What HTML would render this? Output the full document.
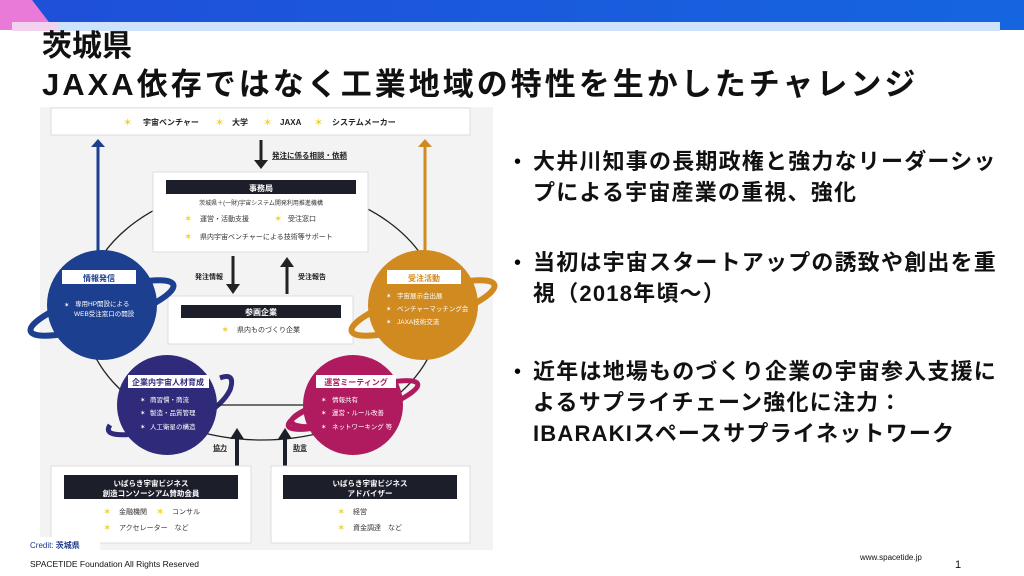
<!DOCTYPE html>
<html><head><meta charset="utf-8"><style>
body{margin:0;width:1024px;height:576px;overflow:hidden;background:#fff;font-family:"Liberation Sans","Noto Sans CJK JP",sans-serif;}
svg{position:absolute;left:0;top:0}
.t{position:absolute;font-family:"Liberation Sans","Noto Sans CJK JP",sans-serif;white-space:nowrap}
.b{font-size:22px;font-weight:bold;line-height:31px;color:#111;left:533px;letter-spacing:1.2px}
.dot{position:absolute;left:507px;font-size:21px;font-weight:bold}
</style></head><body>
<svg width="1024" height="576" viewBox="0 0 1024 576" font-family="Liberation Sans, Noto Sans CJK JP, sans-serif">
<defs>
<linearGradient id="hd" x1="0" x2="1"><stop offset="0" stop-color="#1f4fd8"/><stop offset="1" stop-color="#1565e0"/></linearGradient>
</defs>
<rect x="0" y="0" width="1024" height="30" fill="url(#hd)"/>
<polygon points="0,0 32,0 55,30 0,30" fill="#e97ad8"/>
<rect x="12" y="22" width="988" height="9" fill="#cfe2fb"/>
<rect x="12" y="22" width="45" height="9" fill="#f3d2f0"/>
<rect x="0" y="31" width="1024" height="545" fill="#fff"/>
<text x="42" y="56" font-size="30" font-weight="bold" fill="#111">茨城県</text>
<text x="42" y="95" font-size="31" font-weight="bold" fill="#111" letter-spacing="3">JAXA依存ではなく工業地域の特性を生かしたチャレンジ</text>

<rect x="40" y="107" width="453" height="443" fill="#f3f3f3"/>
<ellipse cx="262" cy="312" rx="178" ry="128" fill="none" stroke="#222" stroke-width="1.3"/>
<rect x="51" y="108" width="419" height="27" fill="#fff" stroke="#ddd"/>
<g font-size="8" font-weight="bold" fill="#222">
<text x="143" y="125">宇宙ベンチャー</text><text x="232" y="125">大学</text><text x="280" y="125">JAXA</text><text x="332" y="125">システムメーカー</text></g>
<g fill="#f2d22c" font-size="11"><text x="123" y="126">✶</text><text x="215" y="126">✶</text><text x="263" y="126">✶</text><text x="314" y="126">✶</text></g>
<line x1="98" y1="145" x2="98" y2="255" stroke="#1d3f8f" stroke-width="3"/><polygon points="91,147 105,147 98,139" fill="#1d3f8f"/>
<line x1="425" y1="145" x2="425" y2="255" stroke="#d08a1f" stroke-width="3"/><polygon points="418,147 432,147 425,139" fill="#d08a1f"/>
<line x1="261" y1="140" x2="261" y2="161" stroke="#222" stroke-width="3"/><polygon points="254,160 268,160 261,169" fill="#222"/>
<text x="272" y="158" font-size="7.5" font-weight="bold" fill="#222" text-decoration="underline">発注に係る相談・依頼</text>
<rect x="153" y="172" width="215" height="80" fill="#fff" stroke="#ddd"/>
<rect x="166" y="180" width="190" height="14" fill="#1c1f2a"/>
<text x="261" y="191" font-size="8" font-weight="bold" fill="#fff" text-anchor="middle">事務局</text>
<text x="261" y="205" font-size="6" fill="#333" text-anchor="middle">茨城県＋(一財)宇宙システム開発利用推進機構</text>
<g font-size="7" fill="#333"><text x="200" y="221">運営・活動支援</text><text x="288" y="221">受注窓口</text><text x="200" y="239">県内宇宙ベンチャーによる技術等サポート</text></g>
<g fill="#f2d22c" font-size="10"><text x="184" y="222">✶</text><text x="274" y="222">✶</text><text x="184" y="240">✶</text></g>
<line x1="233" y1="256" x2="233" y2="285" stroke="#222" stroke-width="3"/><polygon points="226,284 240,284 233,294" fill="#222"/>
<line x1="287" y1="266" x2="287" y2="294" stroke="#222" stroke-width="3"/><polygon points="280,267 294,267 287,257" fill="#222"/>
<text x="195" y="279" font-size="7" font-weight="bold" fill="#222">発注情報</text>
<text x="298" y="279" font-size="7" font-weight="bold" fill="#222">受注報告</text>
<rect x="168" y="296" width="185" height="48" fill="#fff" stroke="#ddd"/>
<rect x="181" y="305" width="160" height="13" fill="#1c1f2a"/>
<text x="261" y="315" font-size="8" font-weight="bold" fill="#fff" text-anchor="middle">参画企業</text>
<text x="237" y="332" font-size="7" fill="#333">県内ものづくり企業</text>
<text x="221" y="333" font-size="10" fill="#f2d22c">✶</text>

<ellipse cx="102" cy="308" rx="75" ry="16" transform="rotate(-18 102 308)" fill="none" stroke="#1d3f8f" stroke-width="6"/>
<circle cx="102" cy="305" r="55" fill="#1d3f8f"/>
<rect x="62" y="270" width="74" height="14" fill="#fff"/>
<text x="99" y="281" font-size="8" font-weight="bold" fill="#1d3f8f" text-anchor="middle">情報発信</text>
<g font-size="6.5" fill="#fff"><text x="75" y="306">専用HP開設による</text><text x="74" y="316">WEB受注窓口の開設</text><text x="64" y="307">✶</text></g>
<ellipse cx="423" cy="308" rx="75" ry="16" transform="rotate(-18 423 308)" fill="none" stroke="#d08a1f" stroke-width="6"/>
<circle cx="423" cy="305" r="55" fill="#d08a1f"/>
<rect x="387" y="270" width="74" height="14" fill="#fff"/>
<text x="424" y="281" font-size="8" font-weight="bold" fill="#d08a1f" text-anchor="middle">受注活動</text>
<g font-size="6.5" fill="#fff"><text x="397" y="298">宇宙展示会出展</text><text x="397" y="311">ベンチャーマッチング会</text><text x="397" y="324">JAXA技術交流</text><text x="386" y="298">✶</text><text x="386" y="311">✶</text><text x="386" y="324">✶</text></g>
<path d="M 220 378 Q 236 372 230 390 Q 215 420 150 432 Q 100 440 110 425" fill="none" stroke="#2f2a7a" stroke-width="5"/>
<circle cx="167" cy="405" r="50" fill="#2f2a7a"/>
<line x1="217" y1="405" x2="303" y2="405" stroke="#222" stroke-width="1.3"/>
<rect x="128" y="375" width="81" height="13" fill="#fff"/>
<text x="168" y="385" font-size="8" font-weight="bold" fill="#2f2a7a" text-anchor="middle">企業内宇宙人材育成</text>
<g font-size="6.5" fill="#fff"><text x="150" y="402">商習慣・商流</text><text x="150" y="415">製造・品質管理</text><text x="150" y="429">人工衛星の構造</text><text x="140" y="402">✶</text><text x="140" y="415">✶</text><text x="140" y="429">✶</text></g>
<path d="M 305 410 Q 285 420 295 425 Q 310 430 340 420" fill="none" stroke="#b01a5e" stroke-width="5"/>
<ellipse cx="353" cy="405" rx="68" ry="13" transform="rotate(-18 353 405)" fill="none" stroke="#b01a5e" stroke-width="5"/>
<circle cx="353" cy="405" r="50" fill="#b01a5e"/>
<rect x="316" y="375" width="80" height="13" fill="#fff"/>
<text x="356" y="385" font-size="8" font-weight="bold" fill="#b01a5e" text-anchor="middle">運営ミーティング</text>
<g font-size="6.5" fill="#fff"><text x="332" y="402">情報共有</text><text x="332" y="415">運営・ルール改善</text><text x="332" y="429">ネットワーキング 等</text><text x="321" y="402">✶</text><text x="321" y="415">✶</text><text x="321" y="429">✶</text></g>
<line x1="237" y1="438" x2="237" y2="467" stroke="#1c1f2a" stroke-width="4"/><polygon points="230,439 244,439 237,428" fill="#1c1f2a"/>
<line x1="285" y1="438" x2="285" y2="467" stroke="#1c1f2a" stroke-width="4"/><polygon points="278,439 292,439 285,428" fill="#1c1f2a"/>
<text x="213" y="450" font-size="7" font-weight="bold" fill="#222" text-decoration="underline">協力</text>
<text x="293" y="450" font-size="7" font-weight="bold" fill="#222" text-decoration="underline">助言</text>
<rect x="51" y="466" width="200" height="77" fill="#fff" stroke="#ddd"/>
<rect x="64" y="475" width="174" height="24" fill="#1c1f2a"/>
<text x="151" y="486" font-size="7.5" font-weight="bold" fill="#fff" text-anchor="middle">いばらき宇宙ビジネス</text>
<text x="151" y="496" font-size="7.5" font-weight="bold" fill="#fff" text-anchor="middle">創造コンソーシアム賛助会員</text>
<g font-size="7" fill="#333"><text x="119" y="514">金融機関</text><text x="172" y="514">コンサル</text><text x="119" y="530">アクセレーター　など</text></g>
<g font-size="10" fill="#f2d22c"><text x="103" y="515">✶</text><text x="156" y="515">✶</text><text x="103" y="531">✶</text></g>
<rect x="271" y="466" width="199" height="77" fill="#fff" stroke="#ddd"/>
<rect x="283" y="475" width="174" height="24" fill="#1c1f2a"/>
<text x="370" y="486" font-size="7.5" font-weight="bold" fill="#fff" text-anchor="middle">いばらき宇宙ビジネス</text>
<text x="370" y="496" font-size="7.5" font-weight="bold" fill="#fff" text-anchor="middle">アドバイザー</text>
<g font-size="7" fill="#333"><text x="353" y="514">経営</text><text x="353" y="530">資金調達　など</text></g>
<g font-size="10" fill="#f2d22c"><text x="337" y="515">✶</text><text x="337" y="531">✶</text></g>
<rect x="20" y="537" width="80" height="13" fill="#fff"/>
<text x="30" y="548" font-size="8" fill="#1d3a8a">Credit: <tspan font-weight="bold">茨城県</tspan></text>
<text x="30" y="567" font-size="8.5" fill="#111">SPACETIDE Foundation  All Rights Reserved</text>
<text x="860" y="560" font-size="8" fill="#111">www.spacetide.jp</text>
<text x="955" y="568" font-size="11" fill="#111">1</text>
</svg>
<div class="dot" style="top:146px">・</div>
<div class="t b" style="top:146px">大井川知事の長期政権と強力なリーダーシッ<br>プによる宇宙産業の重視、強化</div>
<div class="dot" style="top:247px">・</div>
<div class="t b" style="top:247px">当初は宇宙スタートアップの誘致や創出を重<br>視（2018年頃～）</div>
<div class="dot" style="top:356px">・</div>
<div class="t b" style="top:356px">近年は地場ものづくり企業の宇宙参入支援に<br>よるサプライチェーン強化に注力：<br>IBARAKIスペースサプライネットワーク</div>
</body></html>
